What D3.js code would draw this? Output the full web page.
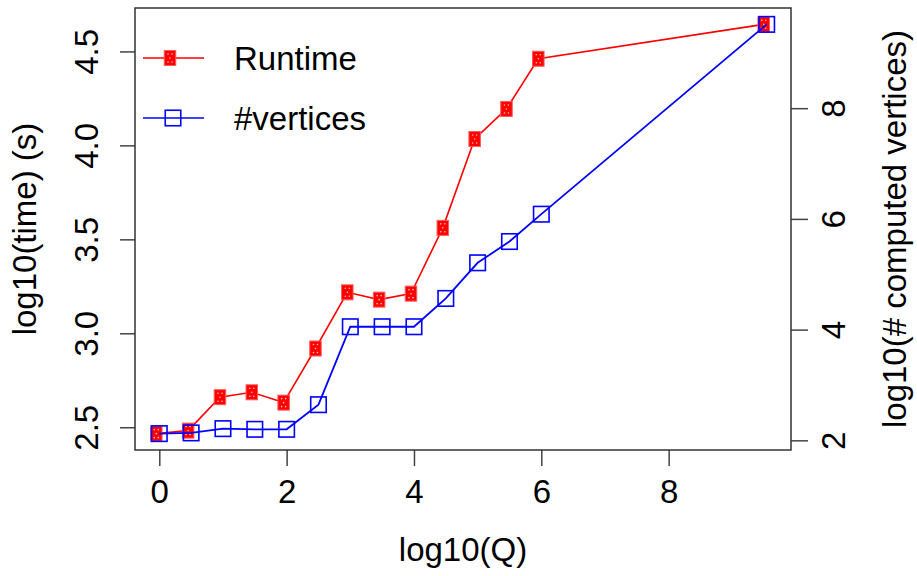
<!DOCTYPE html>
<html>
<head>
  <script src="https://d3js.org/d3.v7.min.js"></script>
  <style>
    body { margin: 0; background: #fff; }
    text { font-family: "Liberation Sans", Arial, sans-serif; fill: #000; }
    .axis line { stroke: #444; stroke-width: 1.5; }
    .axis .domain { stroke: none; }
  </style>
</head>
<body>
<svg id="p" width="917" height="576"></svg>
<script>
// data
const logQ = [0, 0.5, 1, 1.5, 2, 2.5, 3, 3.5, 4, 4.5, 5, 5.5, 6, 9.54];
const runtime = [2.466, 2.482, 2.660, 2.686, 2.631, 2.919, 3.218, 3.179, 3.211, 3.561, 4.034, 4.194, 4.461, 4.644];
const vertices = [2.121, 2.134, 2.211, 2.199, 2.199, 2.644, 4.052, 4.052, 4.052, 4.563, 5.207, 5.591, 6.085, 9.514];
const xTicks = [0, 2, 4, 6, 8];
const yTicks = [2.5, 3.0, 3.5, 4.0, 4.5];
const y2Ticks = [2, 4, 6, 8];
const seriesNames = ["Runtime", "#vertices"];

const svg = d3.select("svg#p");
const box = {left: 135, right: 791, top: 8, bottom: 450};

// R style 4% padding
function pad(ext) {
  const r = ext[1] - ext[0];
  return [ext[0] - 0.04 * r, ext[1] + 0.04 * r];
}

const x = d3.scaleLinear().domain(pad(d3.extent(logQ))).range([box.left, box.right]);
const y = d3.scaleLinear().domain(pad(d3.extent(runtime))).range([box.bottom, box.top]);
const y2 = d3.scaleLinear().domain(pad(d3.extent(vertices))).range([box.bottom, box.top]);

const fs = 33;

// x axis
const gx = svg.append("g").attr("class", "axis")
  .attr("transform", "translate(0," + box.bottom + ")")
  .call(d3.axisBottom(x).tickValues(xTicks).tickSize(16).tickPadding(14).tickFormat(d3.format("d")));
gx.selectAll("text").style("font-size", fs + "px");

// left axis, rotated labels
const gy = svg.append("g").attr("class", "axis")
  .attr("transform", "translate(" + box.left + ",0)")
  .call(d3.axisLeft(y).tickValues(yTicks).tickSize(15).tickFormat(d3.format(".1f")));
gy.selectAll("text")
  .attr("x", null).attr("dy", null)
  .attr("text-anchor", "middle")
  .attr("transform", "translate(-37,0) rotate(-90)")
  .style("font-size", fs + "px");

// right axis
const gy2 = svg.append("g").attr("class", "axis")
  .attr("transform", "translate(" + box.right + ",0)")
  .call(d3.axisRight(y2).tickValues(y2Ticks).tickSize(17).tickFormat(d3.format("d")));
gy2.selectAll("text")
  .attr("x", null).attr("dy", null)
  .attr("text-anchor", "middle")
  .attr("transform", "translate(54,0) rotate(-90)")
  .style("font-size", fs + "px");

// box
svg.append("rect")
  .attr("x", box.left).attr("y", box.top)
  .attr("width", box.right - box.left).attr("height", box.bottom - box.top)
  .attr("fill", "none").attr("stroke", "#333").attr("stroke-width", 1.5);

// titles
svg.append("text").attr("x", (box.left + box.right) / 2).attr("y", 561)
  .attr("text-anchor", "middle").style("font-size", fs + "px").text("log10(Q)");
svg.append("text").attr("text-anchor", "middle").style("font-size", fs + "px")
  .attr("transform", "translate(36," + (box.top + box.bottom) / 2 + ") rotate(-90)")
  .text("log10(time) (s)");
svg.append("text").attr("text-anchor", "middle").style("font-size", fs + "px")
  .attr("transform", "translate(906," + (box.top + box.bottom) / 2 + ") rotate(-90)")
  .text("log10(# computed vertices)");

function redMark(g) {
  g.append("rect").attr("x", -5.75).attr("y", -7.5).attr("width", 11.5).attr("height", 15)
    .attr("fill", "#ff0000").attr("stroke", "#ff5a5a").attr("stroke-width", 1);
  [[-2, -4], [2, -4], [0, 0], [-2, 4], [2, 4]].forEach(p => {
    g.append("circle").attr("cx", p[0]).attr("cy", p[1]).attr("r", 0.8)
      .attr("fill", "#fff").attr("opacity", 0.75);
  });
}
function blueMark(g) {
  g.append("rect").attr("x", -7.75).attr("y", -7.75).attr("width", 15.5).attr("height", 15.5)
    .attr("fill", "none").attr("stroke", "#0000ff").attr("stroke-width", 1.6);
}

const dataR = logQ.map((q, i) => ({q: q, v: runtime[i]}));
const dataB = logQ.map((q, i) => ({q: q, v: vertices[i]}));

// runtime series
const gr = svg.append("g").attr("transform", "translate(-3,0)");
gr.append("path").datum(dataR)
  .attr("d", d3.line().x(d => x(d.q)).y(d => y(d.v)))
  .attr("fill", "none").attr("stroke", "#ff0000").attr("stroke-width", 1.6);
gr.selectAll("g.pt").data(dataR).join("g").attr("class", "pt")
  .attr("transform", d => "translate(" + x(d.q) + "," + y(d.v) + ")")
  .each(function() { redMark(d3.select(this)); });

// vertices series
const gb = svg.append("g");
gb.append("path").datum(dataB)
  .attr("d", d3.line().x(d => x(d.q)).y(d => y2(d.v)))
  .attr("fill", "none").attr("stroke", "#0000ff").attr("stroke-width", 1.8);
gb.selectAll("g.pt").data(dataB).join("g").attr("class", "pt")
  .attr("transform", d => "translate(" + x(d.q) + "," + y2(d.v) + ")")
  .each(function() { blueMark(d3.select(this)); });

// legend
const legend = svg.append("g");
const legRows = [{y: 58, color: "#ff0000", mark: redMark, mx: 170},
                 {y: 118, color: "#0000ff", mark: blueMark, mx: 173}];
legRows.forEach((r, i) => {
  legend.append("line").attr("x1", 143).attr("x2", 204).attr("y1", r.y).attr("y2", r.y)
    .attr("stroke", r.color).attr("stroke-width", 1.6);
  r.mark(legend.append("g").attr("transform", "translate(" + r.mx + "," + r.y + ")"));
  legend.append("text").attr("x", 234).attr("y", r.y + 12)
    .style("font-size", fs + "px").text(seriesNames[i]);
});
</script>
</body>
</html>
